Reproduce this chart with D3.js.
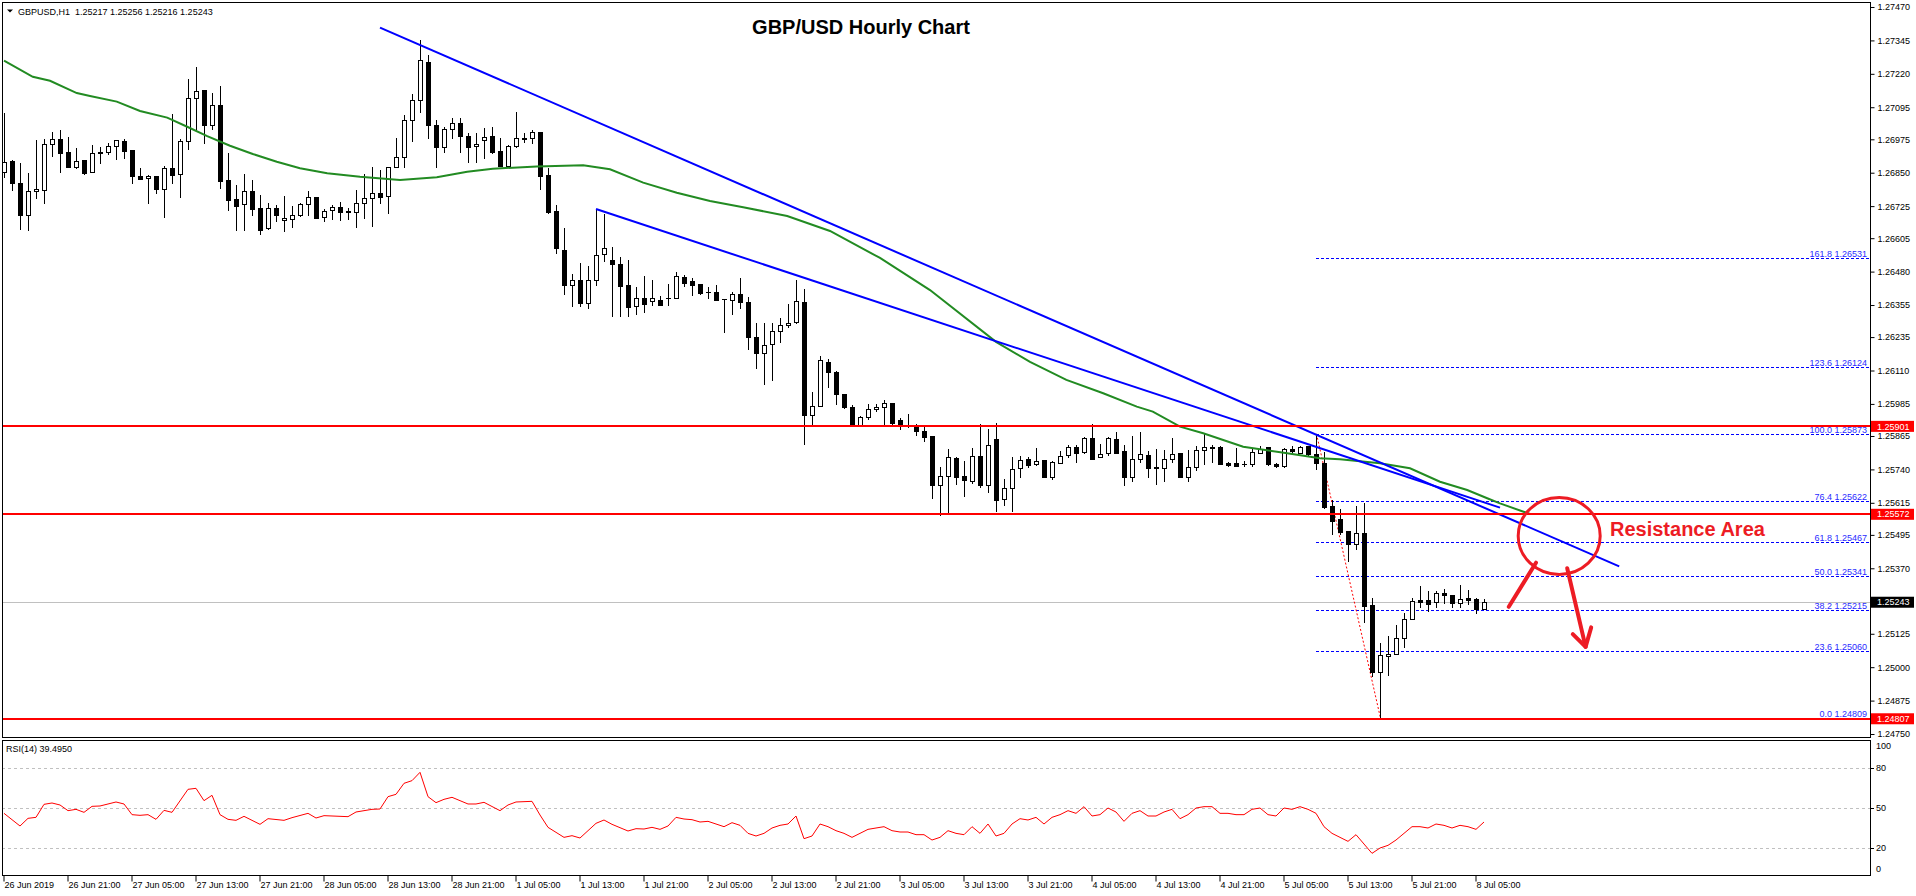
<!DOCTYPE html>
<html><head><meta charset="utf-8">
<script src="https://cdn.jsdelivr.net/npm/d3@7"></script>
<style>
html,body{margin:0;padding:0;background:#fff;overflow:hidden}
svg{display:block}
text{font-family:"Liberation Sans",Arial,sans-serif}
</style></head><body>
<svg id="chart" width="1916" height="896"></svg>
<script>
// ---------------- DATA ----------------
const headerText = "GBPUSD,H1  1.25217 1.25256 1.25216 1.25243";
const chartTitle = "GBP/USD Hourly Chart";
const rsiLabel = "RSI(14) 39.4950";
const annotationText = "Resistance Area";

const openP = [1.26854,1.26894,1.26810,1.26690,1.26781,1.26784,1.26956,1.26975,1.26926,1.26870,
1.26896,1.26854,1.26926,1.26926,1.26949,1.26968,1.26934,1.26838,1.26829,1.26838,
1.26788,1.26867,1.26847,1.26968,1.27128,1.27158,1.27030,1.27102,1.26822,1.26751,
1.26732,1.26781,1.26717,1.26642,1.26717,1.26672,1.26676,1.26691,1.26732,1.26758,
1.26683,1.26709,1.26721,1.26706,1.26702,1.26736,1.26754,1.26773,1.26762,1.26870,
1.26908,1.27046,1.27121,1.27264,1.27029,1.26947,1.27014,1.27036,1.26987,1.26950,
1.26972,1.26987,1.26931,1.26875,1.26950,1.26980,1.26980,1.27002,1.26841,1.26707,
1.26561,1.26430,1.26449,1.26363,1.26449,1.26546,1.26524,1.26509,1.26430,1.26351,
1.26381,1.26370,1.26374,1.26381,1.26381,1.26460,1.26445,1.26434,1.26404,1.26404,
1.26377,1.26374,1.26396,1.26366,1.26235,1.26175,1.26209,1.26257,1.26280,1.26291,
1.26366,1.25944,1.25977,1.26142,1.26104,1.26023,1.25973,1.25907,1.25935,1.25967,
1.25973,1.25988,1.25925,1.25903,1.25900,1.25884,1.25865,1.25680,1.25717,1.25783,
1.25715,1.25695,1.25789,1.25682,1.25854,1.25629,1.25670,1.25745,1.25778,1.25760,
1.25774,1.25713,1.25763,1.25792,1.25823,1.25806,1.25857,1.25786,1.25801,1.25854,
1.25809,1.25713,1.25778,1.25794,1.25748,1.25745,1.25778,1.25803,1.25713,1.25748,
1.25812,1.25824,1.25824,1.25763,1.25763,1.25761,1.25760,1.25803,1.25823,1.25760,
1.25751,1.25817,1.25803,1.25826,1.25797,1.25765,1.25603,1.25554,1.25510,1.25460,
1.25501,1.25233,1.24983,1.25040,1.25048,1.25108,1.25179,1.25252,1.25250,1.25245,
1.25277,1.25269,1.25239,1.25258,1.25254,1.25217];
const highP = [1.27072,1.26898,1.26885,1.26848,1.26972,1.26976,1.27002,1.27010,1.26984,1.26943,
1.26898,1.26954,1.26946,1.26960,1.26971,1.26977,1.26934,1.26868,1.26842,1.26838,
1.26874,1.27069,1.26976,1.27199,1.27246,1.27158,1.27147,1.27174,1.26924,1.26804,
1.26845,1.26822,1.26767,1.26737,1.26729,1.26763,1.26726,1.26737,1.26782,1.26758,
1.26714,1.26729,1.26739,1.26719,1.26786,1.26844,1.26873,1.26860,1.26870,1.26980,
1.27066,1.27145,1.27347,1.27290,1.27047,1.27021,1.27055,1.27055,1.26999,1.26999,
1.27017,1.27021,1.26980,1.26954,1.27077,1.26999,1.27010,1.27002,1.26868,1.26729,
1.26643,1.26471,1.26512,1.26501,1.26714,1.26696,1.26572,1.26535,1.26524,1.26422,
1.26464,1.26449,1.26389,1.26434,1.26479,1.26467,1.26456,1.26434,1.26422,1.26430,
1.26378,1.26404,1.26456,1.26385,1.26288,1.26288,1.26288,1.26306,1.26359,1.26449,
1.26415,1.26030,1.26164,1.26153,1.26110,1.26023,1.25981,1.25940,1.25984,1.25984,
1.26000,1.25988,1.25934,1.25948,1.25910,1.25900,1.25865,1.25748,1.25816,1.25786,
1.25772,1.25819,1.25909,1.25890,1.25913,1.25705,1.25786,1.25791,1.25788,1.25819,
1.25774,1.25772,1.25807,1.25831,1.25831,1.25863,1.25909,1.25834,1.25861,1.25879,
1.25832,1.25865,1.25879,1.25807,1.25816,1.25813,1.25857,1.25803,1.25813,1.25826,
1.25873,1.25832,1.25827,1.25769,1.25819,1.25772,1.25819,1.25829,1.25823,1.25763,
1.25819,1.25828,1.25828,1.25826,1.25873,1.25806,1.25626,1.25592,1.25510,1.25603,
1.25616,1.25258,1.25089,1.25117,1.25158,1.25204,1.25260,1.25305,1.25285,1.25285,
1.25293,1.25269,1.25308,1.25289,1.25258,1.25256];
const lowP = [1.26835,1.26785,1.26640,1.26636,1.26757,1.26738,1.26913,1.26854,1.26870,1.26868,
1.26845,1.26852,1.26888,1.26919,1.26903,1.26906,1.26813,1.26828,1.26738,1.26773,
1.26686,1.26813,1.26761,1.26940,1.27015,1.26963,1.27012,1.26794,1.26712,1.26637,
1.26637,1.26692,1.26620,1.26640,1.26671,1.26633,1.26646,1.26687,1.26691,1.26682,
1.26671,1.26677,1.26674,1.26678,1.26648,1.26682,1.26652,1.26736,1.26698,1.26870,
1.26870,1.26970,1.27078,1.26980,1.26870,1.26928,1.26980,1.26928,1.26890,1.26890,
1.26905,1.26924,1.26875,1.26875,1.26946,1.26965,1.26961,1.26789,1.26699,1.26550,
1.26396,1.26351,1.26351,1.26344,1.26430,1.26519,1.26314,1.26314,1.26314,1.26321,
1.26329,1.26355,1.26355,1.26355,1.26381,1.26426,1.26392,1.26396,1.26381,1.26374,
1.26254,1.26321,1.26344,1.26190,1.26119,1.26059,1.26074,1.26217,1.26273,1.26288,
1.25835,1.25906,1.25977,1.26049,1.25985,1.25971,1.25907,1.25903,1.25928,1.25957,
1.25907,1.25909,1.25892,1.25897,1.25867,1.25848,1.25632,1.25570,1.25576,1.25685,
1.25642,1.25690,1.25676,1.25654,1.25586,1.25605,1.25586,1.25713,1.25748,1.25755,
1.25713,1.25705,1.25763,1.25786,1.25766,1.25801,1.25778,1.25786,1.25792,1.25801,
1.25683,1.25698,1.25766,1.25713,1.25685,1.25698,1.25769,1.25713,1.25698,1.25736,
1.25762,1.25769,1.25762,1.25751,1.25752,1.25751,1.25752,1.25801,1.25757,1.25748,
1.25748,1.25804,1.25801,1.25791,1.25740,1.25594,1.25498,1.25498,1.25399,1.25442,
1.25170,1.24968,1.24809,1.24971,1.25048,1.25077,1.25179,1.25227,1.25212,1.25227,
1.25239,1.25227,1.25227,1.25236,1.25204,1.25216];
const closeP = [1.26891,1.26810,1.26690,1.26781,1.26788,1.26956,1.26975,1.26925,1.26870,1.26893,
1.26850,1.26923,1.26923,1.26949,1.26971,1.26933,1.26839,1.26828,1.26838,1.26788,
1.26867,1.26843,1.26968,1.27128,1.27155,1.27030,1.27102,1.26820,1.26749,1.26727,
1.26781,1.26716,1.26637,1.26717,1.26693,1.26680,1.26691,1.26732,1.26758,1.26682,
1.26706,1.26721,1.26704,1.26702,1.26736,1.26754,1.26773,1.26761,1.26870,1.26908,
1.27046,1.27121,1.27272,1.27029,1.26947,1.27014,1.27036,1.26987,1.26946,1.26958,
1.26984,1.26928,1.26875,1.26950,1.26980,1.26978,1.27002,1.26838,1.26703,1.26568,
1.26430,1.26449,1.26363,1.26449,1.26542,1.26568,1.26509,1.26427,1.26348,1.26381,
1.26359,1.26381,1.26355,1.26382,1.26464,1.26438,1.26430,1.26400,1.26403,1.26374,
1.26378,1.26396,1.26366,1.26235,1.26175,1.26205,1.26257,1.26280,1.26288,1.26370,
1.25944,1.25977,1.26150,1.26104,1.26023,1.25975,1.25907,1.25935,1.25965,1.25973,
1.25988,1.25915,1.25909,1.25902,1.25882,1.25863,1.25680,1.25717,1.25786,1.25713,
1.25700,1.25789,1.25682,1.25831,1.25624,1.25670,1.25741,1.25776,1.25755,1.25773,
1.25713,1.25766,1.25789,1.25823,1.25803,1.25856,1.25779,1.25797,1.25857,1.25803,
1.25713,1.25778,1.25796,1.25747,1.25746,1.25778,1.25797,1.25713,1.25748,1.25812,
1.25823,1.25819,1.25762,1.25758,1.25752,1.25760,1.25804,1.25817,1.25760,1.25751,
1.25816,1.25808,1.25823,1.25798,1.25763,1.25598,1.25548,1.25507,1.25460,1.25501,
1.25230,1.24981,1.25045,1.25048,1.25108,1.25179,1.25247,1.25245,1.25238,1.25277,
1.25269,1.25239,1.25254,1.25253,1.25217,1.25243];

// moving average: bar position, value
const maBars = [0,3.6,5.75,9.1,10.75,14.1,17,20.4,22.9,25.4,28.25,31.1,34.1,37,40.4,44.5,49.5,52,54.1,57.9,61.1,66.6,72.4,75.75,79.9,84.1,88.25,92.4,97.9,103.25,109.5,115.75,124,128.25,132.8,137.4,141.6,143.6,147,149.9,154.9,160.4,164.5,167,172,175.75,179.5,182.9,185.4,187,190.75];
const maVals = [1.27269,1.27209,1.27194,1.27148,1.27137,1.27116,1.27081,1.27056,1.27022,1.26987,1.26951,1.26920,1.26891,1.26867,1.26848,1.26835,1.26823,1.26828,1.26833,1.26854,1.26865,1.26873,1.26878,1.26863,1.26813,1.26775,1.26744,1.26721,1.26688,1.26632,1.26531,1.26411,1.26217,1.26142,1.26075,1.26025,1.25975,1.25956,1.25900,1.25875,1.25825,1.25800,1.25782,1.25778,1.25763,1.25744,1.25694,1.25663,1.25632,1.25613,1.25573];

// RSI(14)
const rsiBars = [0,2,3,4,5,6,7,8,9,10,11,12,14,15,16,17,18,19,20,21,23,24,25,26,27,28,29,30,32,33,35,36,38,39,40,43,44,46,47,48,49,50,51,52,53,54,55,56,58,59,60,62,63,64,66,67,68,70,71,72,74,75,76,78,79,80,81,82,83,84,85,86,87,
88,89,90,91,92,93,94,95,96,97,98,99,100,101,102,103,104,105,106,107,108,109,110,111,112,113,114,115,116,117,118,119,120,121,122,123,124,125,126,127,128,129,130,131,132,133,134,135,136,137,138,139,140,141,142,143,144,145,146,147,148,149,150,151,152,153,154,155,156,157,158,159,160,161,162,163,164,165,166,167,168,169,170,171,172,173,174,175,176,177,178,179,180,181,182,183,184,185];
const rsiVals = [46,36.5,42.25,43,52.75,53.75,52.25,48,49,46.75,51.25,51.5,54.5,53,45,44.5,45,41.5,48.25,46.75,64,64.75,55.5,59.5,45,41.5,40.75,43.75,37.75,42,40.75,42.75,46,42.5,44.25,43.5,47,49,49.25,58.5,60.25,68.5,70.5,76.75,58.5,54,56.5,58,53,53,54.25,48,52.25,54.5,55,44.75,35.5,28,29.25,27.5,38.5,41,37.75,32.75,34.5,34.25,35.5,34,36.5,43,41.75,41.25,39.5,
40,38,36,39,37,31,29,31,35,37,38,44,27,29,38,36,33,31,28,31,34,35,36,33,32,32,30,30,26,28,33,31,30,36,31,38,29,31,38,42,41,43,38,43,45,48,46,51,44,45,50,47,40,46,48,44,44,47,49,42,45,50,51,51,46,46,45,45,49,50,45,44,50,49,51,49,46,36,31,28,25,30,23,16,20,22,26,31,36,36,35,38,37,35,37,36,34,39.495];
const rsiLevels = [80, 50, 20];
const rsiAxisTicks = [100, 80, 50, 20, 0];

const priceTicks = [1.27470,1.27345,1.27220,1.27095,1.26975,1.26850,1.26725,1.26605,1.26480,1.26355,1.26235,1.26110,1.25985,1.25865,1.25740,1.25615,1.25495,1.25370,1.25125,1.25000,1.24875,1.24750];
const timeLabels = ["26 Jun 2019","26 Jun 21:00","27 Jun 05:00","27 Jun 13:00","27 Jun 21:00","28 Jun 05:00","28 Jun 13:00","28 Jun 21:00","1 Jul 05:00","1 Jul 13:00","1 Jul 21:00","2 Jul 05:00","2 Jul 13:00","2 Jul 21:00","3 Jul 05:00","3 Jul 13:00","3 Jul 21:00","4 Jul 05:00","4 Jul 13:00","4 Jul 21:00","5 Jul 05:00","5 Jul 13:00","5 Jul 21:00","8 Jul 05:00"];
const timeTickBars = [0,8,16,24,32,40,48,56,64,72,80,88,96,104,112,120,128,136,144,152,160,168,176,184];

const levelPrices = [1.25901, 1.25572, 1.24807];
const currentPrice = 1.25243;

const fibPct = ["161.8","123.6","100.0","76.4","61.8","50.0","38.2","23.6","0.0"];
const fibVals = [1.26531,1.26124,1.25873,1.25622,1.25467,1.25341,1.25215,1.25060,1.24809];
const fibSwingBars = [164, 172];
const fibSwingVals = [1.25873, 1.24809];

const trend1Bars = [47, 201.9], trend1Vals = [1.27393, 1.25377];
const trend2Bars = [74, 187],   trend2Vals = [1.26714, 1.25597];

// hand-drawn annotation anchors (bar, price)
const circleBar = 194.4, circlePrice = 1.25491;
const arrowUpBars = [188.1, 191.5], arrowUpVals = [1.25226, 1.25391];
const arrowDownBars = [195.4, 197.7], arrowDownVals = [1.25370, 1.25076];
const arrowHeadBars = [196.1, 197.7, 198.4], arrowHeadVals = [1.25124, 1.25076, 1.25149];
const labelBar = 200.75, labelPrice = 1.25491;

// ---------------- DRAW ----------------
const svg = d3.select("#chart");
const L = 2, R = 1870, MT = 2, MB = 737, RT = 740, RB = 875;
const x = d3.scaleLinear().domain([-0.25, 233.25]).range([L, R]);
const y = d3.scaleLinear().domain([1.247388, 1.274887]).range([MB, MT]);
const yR = d3.scaleLinear().domain([0, 100]).range([874.7, 741.3]);
const px = v => Math.round(v) + 0.5;
const RED = "#ff0000", ANN = "#ed1c24";

const defs = svg.append("defs");
defs.append("clipPath").attr("id","clipMain").append("rect")
  .attr("x",L+1).attr("y",MT+1).attr("width",R-L-1).attr("height",MB-MT-1);
defs.append("clipPath").attr("id","clipRsi").append("rect")
  .attr("x",L+1).attr("y",RT+1).attr("width",R-L-1).attr("height",RB-RT-1);

const gMain = svg.append("g").attr("clip-path","url(#clipMain)");

// current price line
gMain.append("line").attr("x1",L).attr("x2",R)
  .attr("y1",px(y(currentPrice))).attr("y2",px(y(currentPrice)))
  .attr("stroke","#c0c0c0").attr("stroke-width",1);

// fib levels
const fibG = gMain.append("g");
fibVals.forEach((v,k)=>{
  const yy = px(y(v));
  fibG.append("line").attr("x1",x(fibSwingBars[0])).attr("x2",R).attr("y1",yy).attr("y2",yy)
    .attr("stroke","#0000ff").attr("stroke-width",1).attr("stroke-dasharray","3,2");
  fibG.append("text").attr("x",R-3).attr("y",yy-1.5).attr("text-anchor","end")
    .attr("font-size",9).attr("fill","#2a2aff").text(fibPct[k]+" "+v.toFixed(5));
});
// fib swing (red dotted)
gMain.append("line")
  .attr("x1",px(x(fibSwingBars[0]))).attr("y1",y(fibSwingVals[0]))
  .attr("x2",px(x(fibSwingBars[1]))).attr("y2",y(fibSwingVals[1]))
  .attr("stroke",RED).attr("stroke-width",1).attr("stroke-dasharray","2,2");

// candles
const bars = d3.range(openP.length).map(i=>({i,o:openP[i],h:highP[i],l:lowP[i],c:closeP[i]}));
const cG = gMain.append("g");
cG.selectAll("line.wick").data(bars).join("line").attr("class","wick")
  .attr("x1",d=>px(x(d.i))).attr("x2",d=>px(x(d.i)))
  .attr("y1",d=>Math.round(y(d.h))).attr("y2",d=>Math.round(y(d.l))+1)
  .attr("stroke","#000").attr("stroke-width",1);
bars.forEach(d=>{
  const cx = Math.round(x(d.i));
  const yt = Math.round(y(Math.max(d.o,d.c))), yb = Math.round(y(Math.min(d.o,d.c)));
  if (yb - yt < 1) {
    cG.append("line").attr("x1",cx-2).attr("x2",cx+3).attr("y1",yt+0.5).attr("y2",yt+0.5)
      .attr("stroke","#000").attr("stroke-width",1);
  } else {
    cG.append("rect").attr("x",cx-1.5).attr("y",yt+0.5).attr("width",4).attr("height",yb-yt)
      .attr("fill", d.c>d.o ? "#fff" : "#000").attr("stroke","#000").attr("stroke-width",1);
  }
});

// moving average
const maPts = maBars.map((b,k)=>[x(b), y(maVals[k])]);
gMain.append("path").attr("d", d3.line()(maPts)).attr("fill","none")
  .attr("stroke","#228b22").attr("stroke-width",2);

// trend lines
[[trend1Bars,trend1Vals],[trend2Bars,trend2Vals]].forEach(([bs,vs])=>{
  gMain.append("line").attr("x1",x(bs[0])).attr("y1",y(vs[0])).attr("x2",x(bs[1])).attr("y2",y(vs[1]))
    .attr("stroke","#0000ff").attr("stroke-width",2);
});

// horizontal levels
levelPrices.forEach(v=>{
  gMain.append("line").attr("x1",L).attr("x2",R).attr("y1",Math.round(y(v))).attr("y2",Math.round(y(v)))
    .attr("stroke",RED).attr("stroke-width",2);
});

// annotations
gMain.append("ellipse").attr("cx",x(circleBar)).attr("cy",y(circlePrice)).attr("rx",41).attr("ry",38.5)
  .attr("fill","none").attr("stroke",ANN).attr("stroke-width",3);
gMain.append("line").attr("x1",x(arrowUpBars[0])).attr("y1",y(arrowUpVals[0]))
  .attr("x2",x(arrowUpBars[1])).attr("y2",y(arrowUpVals[1]))
  .attr("stroke",ANN).attr("stroke-width",4).attr("stroke-linecap","round");
gMain.append("line").attr("x1",x(arrowDownBars[0])).attr("y1",y(arrowDownVals[0]))
  .attr("x2",x(arrowDownBars[1])).attr("y2",y(arrowDownVals[1]))
  .attr("stroke",ANN).attr("stroke-width",4).attr("stroke-linecap","round");
gMain.append("path").attr("d", d3.line()(arrowHeadBars.map((b,k)=>[x(b),y(arrowHeadVals[k])])))
  .attr("fill","none").attr("stroke",ANN).attr("stroke-width",4)
  .attr("stroke-linecap","round").attr("stroke-linejoin","round");
gMain.append("text").attr("x",x(labelBar)).attr("y",y(labelPrice))
  .attr("font-family","Lato, 'Open Sans', sans-serif").attr("font-weight",700).attr("font-size",20)
  .attr("fill",ANN).text(annotationText);

// title + header
svg.append("text").attr("x",861).attr("y",34).attr("text-anchor","middle")
  .attr("font-family","Lato, 'Open Sans', sans-serif").attr("font-weight",700).attr("font-size",20)
  .attr("fill","#000").text(chartTitle);
svg.append("path").attr("d","M7,9.5 L13,9.5 L10,12.5 Z").attr("fill","#000");
svg.append("text").attr("x",18).attr("y",14.5).attr("font-size",9).attr("fill","#000")
  .attr("xml:space","preserve").style("white-space","pre").text(headerText);

// RSI panel
const gR = svg.append("g").attr("clip-path","url(#clipRsi)");
rsiLevels.forEach(v=>{
  gR.append("line").attr("x1",L).attr("x2",R).attr("y1",px(yR(v))).attr("y2",px(yR(v)))
    .attr("stroke","#c0c0c0").attr("stroke-width",1).attr("stroke-dasharray","3,3");
});
gR.append("path").attr("d", d3.line()(rsiBars.map((b,k)=>[x(b), yR(rsiVals[k])])))
  .attr("fill","none").attr("stroke",RED).attr("stroke-width",1);
svg.append("text").attr("x",6).attr("y",752).attr("font-size",9).attr("fill","#000").text(rsiLabel);

// panel borders
svg.append("rect").attr("x",L+0.5).attr("y",MT+0.5).attr("width",R-L).attr("height",MB-MT)
  .attr("fill","none").attr("stroke","#000");
svg.append("rect").attr("x",L+0.5).attr("y",RT+0.5).attr("width",R-L).attr("height",RB-RT)
  .attr("fill","none").attr("stroke","#000");

// price axis
const pAx = svg.append("g").attr("transform",`translate(${R+0.5},0)`)
  .call(d3.axisRight(y).tickValues(priceTicks).tickSize(4).tickPadding(3).tickFormat(d3.format(".5f")));
pAx.select(".domain").remove();
pAx.attr("font-family","Liberation Sans, Arial, sans-serif").attr("font-size",9);
pAx.selectAll(".tick line").attr("stroke","#000");
pAx.selectAll(".tick text").attr("fill","#000");

// level price labels
function priceTag(v, bg){
  const yy = y(v);
  svg.append("rect").attr("x",R+1).attr("y",yy-5.5).attr("width",43).attr("height",11).attr("fill",bg);
  svg.append("text").attr("x",R+7).attr("y",yy).attr("dy","0.35em").attr("font-size",9)
    .attr("fill","#fff").text(v.toFixed(5));
}
levelPrices.forEach(v=>priceTag(v, RED));
priceTag(currentPrice, "#000");

// RSI axis
rsiAxisTicks.forEach(v=>{
  let yy = yR(v);
  if (v===80||v===50||v===20) {
    svg.append("line").attr("x1",R).attr("x2",R+4).attr("y1",px(yy)).attr("y2",px(yy)).attr("stroke","#000");
  }
  yy = Math.min(Math.max(yy, RT+6), RB-6);
  svg.append("text").attr("x",R+6).attr("y",yy).attr("dy","0.35em").attr("font-size",9).attr("fill","#000").text(v);
});

// time axis
const tAx = svg.append("g").attr("transform",`translate(0,${RB+0.5})`)
  .call(d3.axisBottom(x).tickValues(timeTickBars).tickSize(6).tickFormat((d,k)=>timeLabels[k]));
tAx.select(".domain").remove();
tAx.attr("font-family","Liberation Sans, Arial, sans-serif").attr("font-size",9);
tAx.selectAll(".tick line").attr("stroke","#000").attr("transform","translate(-0.5,0)");
tAx.selectAll(".tick text").attr("text-anchor","start").attr("x",0).attr("y",12).attr("dy",0).attr("fill","#000");
</script>
</body></html>
